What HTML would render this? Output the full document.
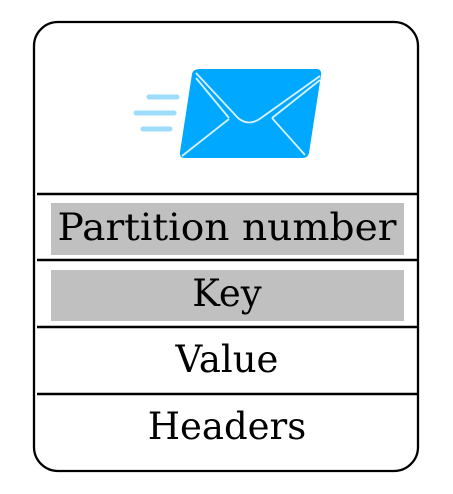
<!DOCTYPE html>
<html><head><style>html,body{margin:0;padding:0;background:#fff}svg{display:block}</style></head>
<body>
<svg width="453" height="494" viewBox="0 0 453 494" xmlns="http://www.w3.org/2000/svg">
<rect x="34" y="22" width="384" height="449" rx="24" ry="24" fill="#fff" stroke="#000" stroke-width="2.3"/>
<g stroke="#9ddcfb" stroke-width="5" stroke-linecap="round">
<line x1="149" y1="97" x2="177" y2="97"/>
<line x1="136" y1="113" x2="174" y2="113"/>
<line x1="143" y1="129" x2="170" y2="129"/>
</g>
<path d="M200,69 L316,69 Q322,69 321,75 L309,153 Q308,158 302,158 L185,158 Q179,158 180,152 L192,74 Q193,69 200,69 Z" fill="#00a8ff"/>
<g stroke="#d8f2ff" stroke-width="1.8" fill="none">
<path d="M196,73 L238,118 Q249,127 261,118 L320,76"/>
<path d="M196,78 L229,118"/>
<path d="M182,156 L229,119"/>
<path d="M272,118 L305,155"/>
<path d="M320,80 L272,118"/>
</g>
<g stroke="#000" stroke-width="2.5">
<line x1="37" y1="194" x2="417" y2="194"/>
<line x1="37" y1="260" x2="417" y2="260"/>
<line x1="37" y1="327" x2="417" y2="327"/>
<line x1="37" y1="394" x2="417" y2="394"/>
</g>
<rect x="51" y="203" width="353" height="52" fill="#c0c0c0"/>
<rect x="51" y="270" width="353" height="51" fill="#c0c0c0"/>
<g font-family="'DejaVu Serif','Liberation Serif',serif" font-size="37" text-anchor="middle" fill="#000">
<text x="227" y="240" textLength="339" lengthAdjust="spacingAndGlyphs">Partition number</text>
<text x="227" y="306">Key</text>
<text x="227" y="372">Value</text>
<text x="227" y="439">Headers</text>
</g>
</svg>
</body></html>
